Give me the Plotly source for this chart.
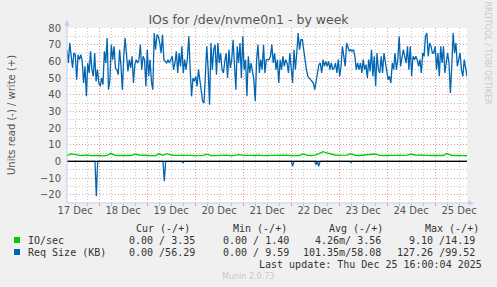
import pandas as pd
import plotly.graph_objects as go

# ---------------- data ----------------
x_start = "2025-12-17 08:00"
x_end = "2025-12-25 16:00"

day_labels = ["17 Dec", "18 Dec", "19 Dec", "20 Dec", "21 Dec", "22 Dec", "23 Dec", "24 Dec", "25 Dec"]
day_label_times = ["2025-12-%d 12:00" % d for d in range(17, 26)]

# Req Size (KB) write (+), sampled evenly across the week
req_write = [
    67, 59, 71, 62, 56, 65, 64, 49, 64, 61, 64, 60,
    47, 57, 39, 59, 53, 66,
    55, 51, 65, 48, 55, 47,
    45, 50, 46, 66, 59, 74,
    43, 49, 70, 61, 69, 56,
    55, 52, 67, 57, 43, 63, 74,
    64, 54, 61, 56, 63,
    47, 58, 61, 59, 61,
    70, 55, 63, 61, 45, 67,
    51, 61, 48, 43, 77, 67, 76,
    75, 71, 65, 76, 61, 60,
    59, 61, 59, 61, 63, 55,
    59, 66, 53, 65, 57, 69,
    53, 61, 55, 62, 75, 55,
    39, 50, 48, 51, 45, 55,
    49, 44, 36, 35, 53,
    69, 55, 34, 71, 55, 67,
    70, 52, 71, 59, 65, 55,
    53, 60, 65, 50, 67, 56,
    61, 73, 53, 43, 69, 59, 71,
    50, 75, 55, 61, 39, 63,
    53, 59,
    55, 49, 36, 61, 70, 53, 61, 55, 70, 53,
    61, 61, 61, 63, 70, 59, 65, 55, 61, 47,
    61, 55, 63, 57, 61, 59, 53, 65, 55, 47,
    67, 55, 65, 77, 67, 73, 73, 66, 59, 55,
    51, 50, 49, 48, 47, 43, 48, 55, 58, 59,
    53, 61, 57, 60, 57, 60, 55, 59, 55, 56,
    59, 53, 61, 51, 57, 69, 61, 57, 71, 68,
    66, 67, 66, 67, 63, 55, 59, 55, 59, 53,
    61, 55, 58, 50, 61, 54, 67, 51, 63, 45,
    65, 55, 53, 63, 53, 65, 59, 55, 49, 51,
    47, 59, 55, 65, 55, 61, 75, 57, 61, 67,
    63, 59, 69, 55, 69, 51, 63, 61, 63, 61,
    57, 61, 53, 65, 63, 75, 77, 63, 71, 69,
    65, 65, 69, 55, 65, 51, 69, 59, 69, 53,
    59, 65, 59, 41, 57, 77, 65, 71, 57, 61,
    65, 55, 51, 61, 55, 51,
]

# IO/sec write (+), every 2 hours
io_write = [
    3.4, 4.5, 4.2, 3.6, 3.5, 3.7, 3.4, 3.6, 3.5, 3.3,
    3.6, 4.8, 3.6, 3.5, 3.7, 3.6, 3.5, 4.3, 3.8, 3.7,
    3.8, 3.5, 3.3, 4.5, 3.6, 4.6, 3.8, 3.6, 3.7, 3.4,
    3.5, 3.6, 3.4, 3.5, 3.6, 4.3, 3.5, 3.4, 3.6, 3.5,
    3.7, 3.3, 3.5, 4.0, 3.6, 3.4, 3.6, 3.5, 3.7, 3.4,
    3.5, 3.6, 3.4, 3.6, 3.5, 3.7, 3.4, 3.6, 3.5, 4.4,
    3.6, 3.5, 3.7, 4.6, 5.8, 5.0, 4.2, 3.8, 3.6, 3.5,
    3.7, 4.6, 3.6, 3.5, 3.7, 3.6, 3.8, 4.4, 3.6, 3.4,
    3.5, 3.6, 3.5, 3.4, 3.6, 3.7, 4.3, 3.8, 3.6, 3.5,
    3.6, 3.5, 3.4, 3.3, 3.5, 4.7, 3.6, 3.5, 3.6, 3.4,
    3.35,
]

# Req Size (KB) read (-): zero except for these spikes
read_spike_times = ["2025-12-17 22:40", "2025-12-19 08:40", "2025-12-19 18:00",
                    "2025-12-22 00:50", "2025-12-22 12:30", "2025-12-22 13:50",
                    "2025-12-23 06:00"]
read_spike_values = [-21, -12, -0.8, -2.9, -2.0, -3.0, -0.6]

legend_headers = ["Cur (-/+)", "Min (-/+)", "Avg (-/+)", "Max (-/+)"]
legend_io = ["0.00 / 3.35", "0.00 / 1.40", "4.26m/ 3.56", "9.10 /14.19"]
legend_req = ["0.00 /56.29", "0.00 / 9.59", "101.35m/58.08", "127.26 /99.52"]

# ---------------- build ----------------
t_write = pd.date_range(x_start, x_end, periods=len(req_write))
t_io = pd.date_range(x_start, periods=len(io_write), freq="2h")

rx, ry = [pd.Timestamp(x_start)], [0]
half = pd.Timedelta(minutes=40)
for ts, v in zip(read_spike_times, read_spike_values):
    t = pd.Timestamp(ts)
    rx += [t - half, t, t + half]
    ry += [0, v, 0]
rx.append(pd.Timestamp(x_end))
ry.append(0)

GREEN = "#00cc00"
BLUE = "#0066b3"
AX = "#c4ccf2"
MAJ = "#e89a9a"
MIN = "#c4c4c4"
DASH = "1px,2px"

fig = go.Figure()
fig.add_trace(go.Scatter(x=t_io, y=io_write, mode="lines",
                         line=dict(color=GREEN, width=1.3), hoverinfo="skip"))
fig.add_trace(go.Scatter(x=rx, y=ry, mode="lines",
                         line=dict(color=BLUE, width=1.3), hoverinfo="skip"))
fig.add_trace(go.Scatter(x=t_write, y=req_write, mode="lines",
                         line=dict(color=BLUE, width=1.3), hoverinfo="skip"))
# zero rule on the label axis
fig.add_trace(go.Scatter(x=[x_start, x_end], y=[0, 0], mode="lines", xaxis="x2",
                         line=dict(color="#000000", width=1.2), hoverinfo="skip"))

L, R, T, B = 67, 467, 28, 203
W, H = R - L, B - T


def px(x):
    return (x - L) / W


def py(y):
    return (B - y) / H


fig.update_layout(
    width=497, height=287,
    margin=dict(l=L, r=497 - R, t=T, b=287 - B),
    paper_bgcolor="#f0f0f0", plot_bgcolor="#ffffff",
    showlegend=False,
    font=dict(family="DejaVu Sans", size=10, color="#555555"),
    xaxis=dict(
        type="date", range=[x_start, x_end],
        showgrid=True, gridcolor=MAJ, griddash=DASH, gridwidth=1,
        tick0="2025-12-17", dtick=86400000,
        showticklabels=False, ticks="outside", ticklen=2, tickcolor="#e88888",
        minor=dict(dtick=21600000, showgrid=True, gridcolor=MIN, griddash=DASH,
                   ticks="outside", ticklen=2, tickcolor="#bbbbbb"),
        showline=False, zeroline=False, fixedrange=True,
    ),
    xaxis2=dict(
        type="date", range=[x_start, x_end], overlaying="x", anchor="y", side="bottom",
        tickvals=day_label_times, ticktext=day_labels, showgrid=False, ticks="",
        showline=False, zeroline=False, tickfont=dict(size=10, color="#555555"),
    ),
    yaxis=dict(
        range=[-25, 80], dtick=10, tick0=0,
        showgrid=True, gridcolor=MAJ, griddash=DASH,
        minor=dict(dtick=5, showgrid=True, gridcolor=MIN, griddash=DASH),
        zeroline=False, showline=False, ticks="", ticklabelstandoff=5,
        tickfont=dict(size=10, color="#555555"),
    ),
    title=dict(text="IOs for /dev/nvme0n1 - by week", x=0.5, xanchor="center",
               y=1 - 20 / 287, yanchor="middle",
               font=dict(family="DejaVu Sans", size=12.5, color="#555555")),
)

shapes = [
    dict(type="line", xref="paper", yref="paper", x0=0, x1=0, y0=0, y1=py(23),
         line=dict(color=AX, width=1)),
    dict(type="path", xref="paper", yref="paper",
         path="M %f %f L %f %f L %f %f Z" % (px(64.5), py(26), px(69.5), py(26), px(67), py(19.5)),
         fillcolor=AX, line=dict(width=0)),
    dict(type="line", xref="paper", yref="paper", x0=0, x1=px(470), y0=0, y1=0,
         line=dict(color=AX, width=1)),
    dict(type="path", xref="paper", yref="paper",
         path="M %f %f L %f %f L %f %f Z" % (px(468.5), py(200.5), px(468.5), py(205.5), px(474), py(203)),
         fillcolor=AX, line=dict(width=0)),
    dict(type="rect", xref="paper", yref="paper", x0=px(14), x1=px(20), y0=py(243), y1=py(237),
         fillcolor=GREEN, line=dict(width=0)),
    dict(type="rect", xref="paper", yref="paper", x0=px(14), x1=px(20), y0=py(255), y1=py(249),
         fillcolor=BLUE, line=dict(width=0)),
]
fig.update_layout(shapes=shapes)

MONO = dict(family="DejaVu Sans Mono", size=10, color="#333333")
ann = []


def text(x, y, s, anchor="left", font=MONO, angle=0):
    ann.append(dict(x=px(x), y=py(y), xref="paper", yref="paper", text=s, showarrow=False,
                    xanchor=anchor, yanchor="middle", font=font, textangle=angle))


for s, x in zip(legend_headers, [134, 231, 327, 423]):
    text(x, 228, s)
text(26, 240.5, "IO/sec")
text(26, 252.5, "Req Size (KB)")
for s, x in zip(legend_io, [197, 291, 383, 477]):
    text(x, 240.5, s, anchor="right")
for s, x in zip(legend_req, [197, 291, 383, 477]):
    text(x, 252.5, s, anchor="right")
text(484, 264, "Last update: Thu Dec 25 16:00:04 2025", anchor="right")
text(248, 276, "Munin 2.0.73", anchor="center",
     font=dict(family="DejaVu Sans", size=8, color="#c8c8c8"))
text(11, 115, "Units read (-) / write (+)", anchor="center",
     font=dict(family="DejaVu Sans", size=10, color="#555555"), angle=-90)
text(487.5, 53, "RRDTOOL / TOBI OETIKER", anchor="center",
     font=dict(family="DejaVu Sans", size=8, color="#c8c8c8"), angle=90)
fig.update_layout(annotations=ann)

fig.write_html("out.html")
